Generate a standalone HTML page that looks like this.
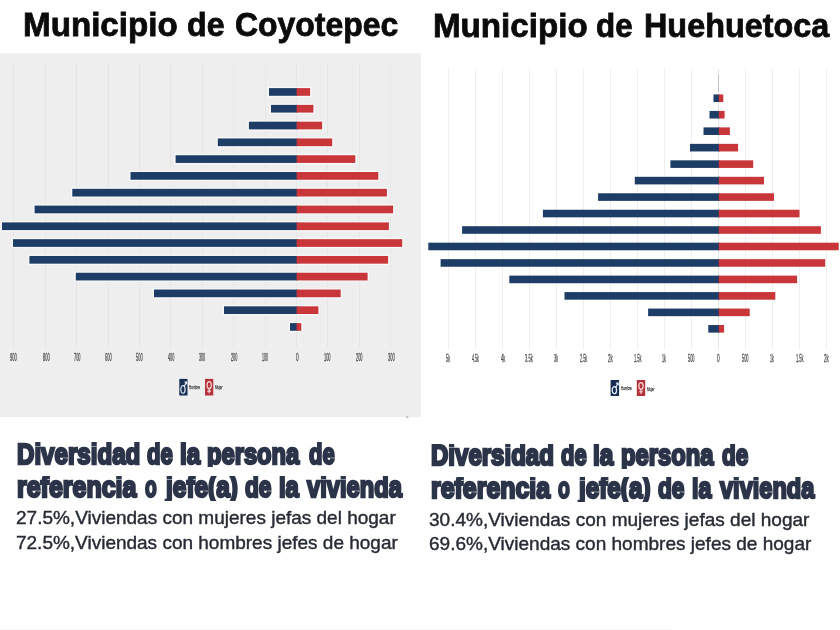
<!DOCTYPE html>
<html lang="es"><head><meta charset="utf-8"><title>Municipio de Coyotepec / Municipio de Huehuetoca</title>
<style>
html,body{margin:0;padding:0;background:#fff;}
body{width:840px;height:630px;position:relative;overflow:hidden;font-family:"Liberation Sans",sans-serif;}
.a,.t{position:absolute;}
.t{white-space:nowrap;transform-origin:0 0;line-height:1;margin:0;}
.title{font-family:"Liberation Sans",sans-serif;font-weight:bold;font-size:33.2px;-webkit-text-stroke:0.8px currentColor;color:#0b0b0b;}
.h{font-family:"Liberation Sans",sans-serif;font-weight:bold;font-size:30.2px;-webkit-text-stroke:2.5px currentColor;color:#2c3449;}
.p{font-family:"Liberation Sans",sans-serif;font-size:18.5px;-webkit-text-stroke:0.4px currentColor;color:#272b34;}
.ax{font-family:"Liberation Sans",sans-serif;font-size:10px;-webkit-text-stroke:0.3px currentColor;color:#4c4c4c;}
.lg{font-family:"Liberation Sans",sans-serif;font-size:6.2px;-webkit-text-stroke:0.25px currentColor;color:#3a3a3a;}
</style></head><body><div class="a" style="left:0;top:0;width:840px;height:630px;filter:blur(0.5px)">

<svg class="a" style="left:0;top:0" width="840" height="630" viewBox="0 0 840 630">
<rect x="0" y="53.3" width="420.8" height="363.9" fill="#eeeeee"/>
<rect x="13.0" y="63" width="1" height="285.5" fill="#e6e6e6"/>
<rect x="45.0" y="63" width="1" height="285.5" fill="#e6e6e6"/>
<rect x="76.0" y="63" width="1" height="285.5" fill="#e6e6e6"/>
<rect x="108.0" y="63" width="1" height="285.5" fill="#e6e6e6"/>
<rect x="139.0" y="63" width="1" height="285.5" fill="#e6e6e6"/>
<rect x="170.0" y="63" width="1" height="285.5" fill="#e6e6e6"/>
<rect x="202.0" y="63" width="1" height="285.5" fill="#e6e6e6"/>
<rect x="233.0" y="63" width="1" height="285.5" fill="#e6e6e6"/>
<rect x="265.0" y="63" width="1" height="285.5" fill="#e6e6e6"/>
<rect x="296.0" y="63" width="1" height="285.5" fill="#e6e6e6"/>
<rect x="327.0" y="63" width="1" height="285.5" fill="#e6e6e6"/>
<rect x="359.0" y="63" width="1" height="285.5" fill="#e6e6e6"/>
<rect x="390.0" y="63" width="1" height="285.5" fill="#e6e6e6"/>
<rect x="448.0" y="69" width="1" height="280" fill="#eeeeee"/>
<rect x="475.0" y="69" width="1" height="280" fill="#eeeeee"/>
<rect x="502.0" y="69" width="1" height="280" fill="#eeeeee"/>
<rect x="529.0" y="69" width="1" height="280" fill="#eeeeee"/>
<rect x="556.0" y="69" width="1" height="280" fill="#eeeeee"/>
<rect x="583.0" y="69" width="1" height="280" fill="#eeeeee"/>
<rect x="610.0" y="69" width="1" height="280" fill="#eeeeee"/>
<rect x="637.0" y="69" width="1" height="280" fill="#eeeeee"/>
<rect x="664.0" y="69" width="1" height="280" fill="#eeeeee"/>
<rect x="691.0" y="69" width="1" height="280" fill="#eeeeee"/>
<rect x="718.0" y="69" width="1" height="280" fill="#e6e6e6"/>
<rect x="718.0" y="75" width="1" height="17" fill="#c4c4c4"/>
<rect x="745.0" y="69" width="1" height="280" fill="#eeeeee"/>
<rect x="772.0" y="69" width="1" height="280" fill="#eeeeee"/>
<rect x="799.0" y="69" width="1" height="280" fill="#eeeeee"/>
<rect x="826.0" y="69" width="1" height="280" fill="#eeeeee"/>
<rect x="267.7" y="86.80" width="43.7" height="10.3" fill="#f8f8f8"/>
<rect x="269.7" y="103.59" width="45.0" height="10.3" fill="#f8f8f8"/>
<rect x="247.6" y="120.37" width="75.8" height="10.3" fill="#f8f8f8"/>
<rect x="216.5" y="137.16" width="117.0" height="10.3" fill="#f8f8f8"/>
<rect x="174.3" y="153.94" width="182.3" height="10.3" fill="#f8f8f8"/>
<rect x="129.2" y="170.73" width="250.4" height="10.3" fill="#f8f8f8"/>
<rect x="71.0" y="187.52" width="317.2" height="10.3" fill="#f8f8f8"/>
<rect x="33.3" y="204.30" width="361.1" height="10.3" fill="#f8f8f8"/>
<rect x="0.7" y="221.09" width="389.5" height="10.3" fill="#f8f8f8"/>
<rect x="11.7" y="237.87" width="391.8" height="10.3" fill="#f8f8f8"/>
<rect x="28.1" y="254.66" width="361.3" height="10.3" fill="#f8f8f8"/>
<rect x="74.5" y="271.45" width="294.4" height="10.3" fill="#f8f8f8"/>
<rect x="152.7" y="288.23" width="189.3" height="10.3" fill="#f8f8f8"/>
<rect x="222.7" y="305.02" width="97.0" height="10.3" fill="#f8f8f8"/>
<rect x="288.7" y="321.80" width="13.9" height="10.3" fill="#f8f8f8"/>
<rect x="269.0" y="88.10" width="28.6" height="7.7" fill="#1d3d66"/>
<rect x="296.6" y="88.10" width="13.5" height="7.7" fill="#c8363a"/>
<rect x="271.0" y="104.89" width="26.6" height="7.7" fill="#1d3d66"/>
<rect x="296.6" y="104.89" width="16.8" height="7.7" fill="#c8363a"/>
<rect x="248.9" y="121.67" width="48.7" height="7.7" fill="#1d3d66"/>
<rect x="296.6" y="121.67" width="25.5" height="7.7" fill="#c8363a"/>
<rect x="217.8" y="138.46" width="79.8" height="7.7" fill="#1d3d66"/>
<rect x="296.6" y="138.46" width="35.6" height="7.7" fill="#c8363a"/>
<rect x="175.6" y="155.24" width="122.0" height="7.7" fill="#1d3d66"/>
<rect x="296.6" y="155.24" width="58.7" height="7.7" fill="#c8363a"/>
<rect x="130.5" y="172.03" width="167.1" height="7.7" fill="#1d3d66"/>
<rect x="296.6" y="172.03" width="81.7" height="7.7" fill="#c8363a"/>
<rect x="72.3" y="188.82" width="225.3" height="7.7" fill="#1d3d66"/>
<rect x="296.6" y="188.82" width="90.3" height="7.7" fill="#c8363a"/>
<rect x="34.6" y="205.60" width="263.0" height="7.7" fill="#1d3d66"/>
<rect x="296.6" y="205.60" width="96.5" height="7.7" fill="#c8363a"/>
<rect x="2.0" y="222.39" width="295.6" height="7.7" fill="#1d3d66"/>
<rect x="296.6" y="222.39" width="92.3" height="7.7" fill="#c8363a"/>
<rect x="13.0" y="239.17" width="284.6" height="7.7" fill="#1d3d66"/>
<rect x="296.6" y="239.17" width="105.6" height="7.7" fill="#c8363a"/>
<rect x="29.4" y="255.96" width="268.2" height="7.7" fill="#1d3d66"/>
<rect x="296.6" y="255.96" width="91.5" height="7.7" fill="#c8363a"/>
<rect x="75.8" y="272.75" width="221.8" height="7.7" fill="#1d3d66"/>
<rect x="296.6" y="272.75" width="71.0" height="7.7" fill="#c8363a"/>
<rect x="154.0" y="289.53" width="143.6" height="7.7" fill="#1d3d66"/>
<rect x="296.6" y="289.53" width="44.1" height="7.7" fill="#c8363a"/>
<rect x="224.0" y="306.32" width="73.6" height="7.7" fill="#1d3d66"/>
<rect x="296.6" y="306.32" width="21.8" height="7.7" fill="#c8363a"/>
<rect x="290.0" y="323.10" width="7.6" height="7.7" fill="#1d3d66"/>
<rect x="296.6" y="323.10" width="4.7" height="7.7" fill="#c8363a"/>
<rect x="713.5" y="94.45" width="6.3" height="7.6" fill="#1d3d66"/>
<rect x="718.8" y="94.45" width="4.5" height="7.6" fill="#c8363a"/>
<rect x="709.5" y="110.92" width="10.3" height="7.6" fill="#1d3d66"/>
<rect x="718.8" y="110.92" width="5.8" height="7.6" fill="#c8363a"/>
<rect x="703.5" y="127.39" width="16.3" height="7.6" fill="#1d3d66"/>
<rect x="718.8" y="127.39" width="11.1" height="7.6" fill="#c8363a"/>
<rect x="690.0" y="143.86" width="29.8" height="7.6" fill="#1d3d66"/>
<rect x="718.8" y="143.86" width="19.3" height="7.6" fill="#c8363a"/>
<rect x="670.4" y="160.33" width="49.4" height="7.6" fill="#1d3d66"/>
<rect x="718.8" y="160.33" width="34.4" height="7.6" fill="#c8363a"/>
<rect x="634.8" y="176.80" width="85.0" height="7.6" fill="#1d3d66"/>
<rect x="718.8" y="176.80" width="45.2" height="7.6" fill="#c8363a"/>
<rect x="598.1" y="193.27" width="121.7" height="7.6" fill="#1d3d66"/>
<rect x="718.8" y="193.27" width="55.2" height="7.6" fill="#c8363a"/>
<rect x="542.9" y="209.74" width="176.9" height="7.6" fill="#1d3d66"/>
<rect x="718.8" y="209.74" width="80.7" height="7.6" fill="#c8363a"/>
<rect x="462.1" y="226.21" width="257.7" height="7.6" fill="#1d3d66"/>
<rect x="718.8" y="226.21" width="102.1" height="7.6" fill="#c8363a"/>
<rect x="428.3" y="242.68" width="291.5" height="7.6" fill="#1d3d66"/>
<rect x="718.8" y="242.68" width="119.9" height="7.6" fill="#c8363a"/>
<rect x="440.6" y="259.15" width="279.2" height="7.6" fill="#1d3d66"/>
<rect x="718.8" y="259.15" width="106.4" height="7.6" fill="#c8363a"/>
<rect x="509.3" y="275.62" width="210.5" height="7.6" fill="#1d3d66"/>
<rect x="718.8" y="275.62" width="78.3" height="7.6" fill="#c8363a"/>
<rect x="564.5" y="292.09" width="155.3" height="7.6" fill="#1d3d66"/>
<rect x="718.8" y="292.09" width="56.5" height="7.6" fill="#c8363a"/>
<rect x="648.1" y="308.56" width="71.7" height="7.6" fill="#1d3d66"/>
<rect x="718.8" y="308.56" width="30.9" height="7.6" fill="#c8363a"/>
<rect x="708.3" y="325.03" width="11.5" height="7.6" fill="#1d3d66"/>
<rect x="718.8" y="325.03" width="5.3" height="7.6" fill="#c8363a"/>
<rect x="0" y="629" width="672" height="1" fill="#f6f6f6"/>
<rect x="406" y="416.6" width="2.4" height="1" fill="#9a9a9a"/>
<g transform="translate(179.30 378.90) scale(0.9111 0.9765)"><rect width="9" height="17" fill="#172f52"/><ellipse cx="4.0" cy="10.8" rx="2.3" ry="3.8" fill="none" stroke="#e6eefa" stroke-width="1.3"/><path d="M5.6 7.6 L7.8 3.2 M5.6 3.4 L7.9 3.0 L8.2 5.6" fill="none" stroke="#e6eefa" stroke-width="1.2"/></g>
<g transform="translate(205.00 378.90) scale(0.9222 0.9765)"><rect width="9" height="17" fill="#b5333a"/><ellipse cx="4.5" cy="6.4" rx="2.3" ry="3.6" fill="none" stroke="#fbdcdc" stroke-width="1.3"/><path d="M4.5 10 L4.5 14.8 M2.6 12.5 L6.4 12.5" fill="none" stroke="#fbdcdc" stroke-width="1.2"/></g>
<g transform="translate(610.60 380.00) scale(0.9444 0.9412)"><rect width="9" height="17" fill="#172f52"/><ellipse cx="4.0" cy="10.8" rx="2.3" ry="3.8" fill="none" stroke="#e6eefa" stroke-width="1.3"/><path d="M5.6 7.6 L7.8 3.2 M5.6 3.4 L7.9 3.0 L8.2 5.6" fill="none" stroke="#e6eefa" stroke-width="1.2"/></g>
<g transform="translate(636.80 380.00) scale(0.9333 0.9412)"><rect width="9" height="17" fill="#b5333a"/><ellipse cx="4.5" cy="6.4" rx="2.3" ry="3.6" fill="none" stroke="#fbdcdc" stroke-width="1.3"/><path d="M4.5 10 L4.5 14.8 M2.6 12.5 L6.4 12.5" fill="none" stroke="#fbdcdc" stroke-width="1.2"/></g>
</svg>
<div class="a" style="left:0;top:0;width:840px;height:52px">
<span class="t title" style="left:22.64px;top:8.13px;transform:scaleX(0.9994)">Municipio</span> <span class="t title" style="left:186.75px;top:8.13px;transform:scaleX(0.9690)">de</span> <span class="t title" style="left:234.79px;top:8.13px;transform:scaleX(0.9627)">Coyotepec</span>
</div>
<div class="a" style="left:0;top:0;width:840px;height:52px">
<span class="t title" style="left:432.55px;top:8.53px;transform:scaleX(0.9989)">Municipio</span> <span class="t title" style="left:596.39px;top:8.53px;transform:scaleX(0.9450)">de</span> <span class="t title" style="left:643.88px;top:8.53px;transform:scaleX(0.9750)">Huehuetoca</span>
</div>
<div class="a" style="left:0;top:442.00px;width:840px;height:25.10px;overflow:hidden">
<span class="t h" style="left:17.02px;top:-3.40px;transform:scaleX(0.7989)">Diversidad</span> <span class="t h" style="left:147.42px;top:-3.40px;transform:scaleX(0.7326)">de</span> <span class="t h" style="left:180.41px;top:-3.40px;transform:scaleX(0.8001)">la</span> <span class="t h" style="left:207.49px;top:-3.40px;transform:scaleX(0.7850)">persona</span> <span class="t h" style="left:308.83px;top:-3.40px;transform:scaleX(0.7283)">de</span>
</div>
<div class="a" style="left:0;top:475.60px;width:840px;height:25.10px;overflow:hidden">
<span class="t h" style="left:17.11px;top:-3.60px;transform:scaleX(0.8270)">referencia</span> <span class="t h" style="left:144.97px;top:-3.60px;transform:scaleX(0.6357)">o</span> <span class="t h" style="left:165.77px;top:-3.60px;transform:scaleX(0.8096)">jefe(a)</span> <span class="t h" style="left:244.85px;top:-3.60px;transform:scaleX(0.7521)">de</span> <span class="t h" style="left:278.75px;top:-3.60px;transform:scaleX(0.7894)">la</span> <span class="t h" style="left:306.95px;top:-3.60px;transform:scaleX(0.7849)">vivienda</span>
</div>
<div class="a" style="left:0;top:443.60px;width:840px;height:25.10px;overflow:hidden">
<span class="t h" style="left:430.59px;top:-3.60px;transform:scaleX(0.7960)">Diversidad</span> <span class="t h" style="left:560.54px;top:-3.60px;transform:scaleX(0.7272)">de</span> <span class="t h" style="left:593.21px;top:-3.60px;transform:scaleX(0.8085)">la</span> <span class="t h" style="left:620.72px;top:-3.60px;transform:scaleX(0.7871)">persona</span> <span class="t h" style="left:722.29px;top:-3.60px;transform:scaleX(0.7439)">de</span>
</div>
<div class="a" style="left:0;top:476.90px;width:840px;height:25.10px;overflow:hidden">
<span class="t h" style="left:430.62px;top:-3.70px;transform:scaleX(0.8253)">referencia</span> <span class="t h" style="left:557.97px;top:-3.70px;transform:scaleX(0.6416)">o</span> <span class="t h" style="left:578.51px;top:-3.70px;transform:scaleX(0.8043)">jefe(a)</span> <span class="t h" style="left:657.85px;top:-3.70px;transform:scaleX(0.7521)">de</span> <span class="t h" style="left:691.85px;top:-3.70px;transform:scaleX(0.7686)">la</span> <span class="t h" style="left:719.50px;top:-3.70px;transform:scaleX(0.7812)">vivienda</span>
</div>
<div class="t p" style="left:15.97px;top:509.00px;transform:scaleX(1.0267)">27.5%,Viviendas con mujeres jefas del hogar</div>
<div class="t p" style="left:15.97px;top:533.60px;transform:scaleX(1.0265)">72.5%,Viviendas con hombres jefes de hogar</div>
<div class="t p" style="left:428.68px;top:510.60px;transform:scaleX(1.0284)">30.4%,Viviendas con mujeres jefas del hogar</div>
<div class="t p" style="left:428.69px;top:535.00px;transform:scaleX(1.0279)">69.6%,Viviendas con hombres jefes de hogar</div>
<div class="t lg" style="left:189.30px;top:383.98px;transform:scaleX(0.4965)">Hombre</div>
<div class="t lg" style="left:215.32px;top:383.91px;transform:scaleX(0.4821)">Mujer</div>
<div class="t lg" style="left:620.62px;top:385.36px;transform:scaleX(0.4880)">Hombre</div>
<div class="t lg" style="left:647.20px;top:385.58px;transform:scaleX(0.4826)">Mujer</div>
<div class="t ax" style="left:10.16px;top:352.68px;transform:scaleX(0.4083)">900</div>
<div class="t ax" style="left:42.54px;top:352.68px;transform:scaleX(0.4029)">800</div>
<div class="t ax" style="left:73.98px;top:352.68px;transform:scaleX(0.3837)">700</div>
<div class="t ax" style="left:105.00px;top:352.68px;transform:scaleX(0.3992)">600</div>
<div class="t ax" style="left:136.25px;top:352.68px;transform:scaleX(0.3960)">500</div>
<div class="t ax" style="left:168.01px;top:352.68px;transform:scaleX(0.3774)">400</div>
<div class="t ax" style="left:199.37px;top:352.68px;transform:scaleX(0.3703)">300</div>
<div class="t ax" style="left:231.05px;top:352.68px;transform:scaleX(0.3799)">200</div>
<div class="t ax" style="left:261.90px;top:352.68px;transform:scaleX(0.3607)">100</div>
<div class="t ax" style="left:295.60px;top:352.68px;transform:scaleX(0.4754)">0</div>
<div class="t ax" style="left:324.41px;top:352.68px;transform:scaleX(0.3925)">100</div>
<div class="t ax" style="left:355.77px;top:352.68px;transform:scaleX(0.3876)">200</div>
<div class="t ax" style="left:387.61px;top:352.68px;transform:scaleX(0.4057)">300</div>
<div class="t ax" style="left:445.99px;top:354.12px;transform:scaleX(0.3821)">5k</div>
<div class="t ax" style="left:472.18px;top:354.12px;transform:scaleX(0.3648)">4.5k</div>
<div class="t ax" style="left:500.53px;top:354.12px;transform:scaleX(0.3985)">4k</div>
<div class="t ax" style="left:525.41px;top:354.12px;transform:scaleX(0.4066)">3.5k</div>
<div class="t ax" style="left:553.81px;top:354.12px;transform:scaleX(0.3822)">3k</div>
<div class="t ax" style="left:579.84px;top:354.12px;transform:scaleX(0.3830)">2.5k</div>
<div class="t ax" style="left:608.09px;top:354.12px;transform:scaleX(0.4428)">2k</div>
<div class="t ax" style="left:633.59px;top:354.12px;transform:scaleX(0.3969)">1.5k</div>
<div class="t ax" style="left:661.95px;top:354.12px;transform:scaleX(0.3696)">1k</div>
<div class="t ax" style="left:687.96px;top:354.12px;transform:scaleX(0.3931)">500</div>
<div class="t ax" style="left:717.26px;top:354.12px;transform:scaleX(0.4754)">0</div>
<div class="t ax" style="left:741.96px;top:354.12px;transform:scaleX(0.3931)">500</div>
<div class="t ax" style="left:769.95px;top:354.12px;transform:scaleX(0.3696)">1k</div>
<div class="t ax" style="left:795.59px;top:354.12px;transform:scaleX(0.3969)">1.5k</div>
<div class="t ax" style="left:824.09px;top:354.12px;transform:scaleX(0.4428)">2k</div>
</div></body></html>
